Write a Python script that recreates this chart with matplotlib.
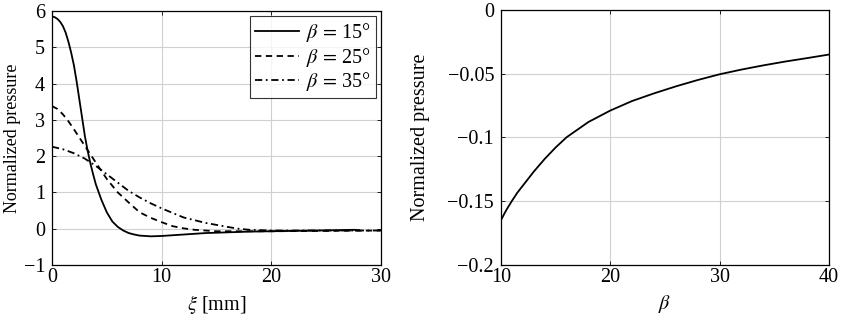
import matplotlib
matplotlib.use("Agg")
import matplotlib.pyplot as plt

plt.rcParams['font.family'] = ['Liberation Serif', 'DejaVu Serif']
plt.rcParams['mathtext.fontset'] = 'stix'
plt.rcParams['font.size'] = 14.5

# Left panel data
xi_15 = [0, 0.25, 0.5, 0.75, 1, 1.25, 1.5, 1.75, 2, 2.25, 2.5, 2.75, 3, 3.25, 3.5, 3.75, 4, 4.5, 5, 5.5, 6, 6.5, 7, 7.5, 8, 9, 10,
         12, 14, 16, 18, 20, 22, 24, 26, 27.5, 28]
p_15 = [5.85, 5.83, 5.78, 5.7, 5.58, 5.4, 5.15, 4.85, 4.5, 4.05, 3.55, 3.05, 2.55, 2.15, 1.8, 1.5, 1.22, 0.8, 0.45, 0.2, 0.05,
        -0.05, -0.12, -0.16, -0.19, -0.21, -0.2,
        -0.16, -0.12, -0.1, -0.08, -0.07, -0.06, -0.05, -0.04, -0.03, -0.04]
xi_25 = [0, 0.5, 1, 1.5, 2, 2.5, 3, 4, 5, 6, 7, 8, 9, 10, 11, 12, 13, 15, 20, 25, 30]
p_25 = [3.38, 3.3, 3.15, 2.96, 2.74, 2.51, 2.28, 1.82, 1.37, 1.0, 0.72, 0.45, 0.3, 0.18, 0.07, 0.01, -0.03, -0.07, -0.07, -0.06, -0.05]
xi_35 = [0, 1, 2, 3, 4, 5, 6, 7, 8, 9, 10, 12, 14, 16, 17, 18, 20, 25, 30]
p_35 = [2.26, 2.19, 2.08, 1.93, 1.73, 1.5, 1.27, 1.04, 0.86, 0.7, 0.56, 0.31, 0.16, 0.05, 0.0, -0.03, -0.05, -0.05, -0.05]
series_labels = [r'$\beta\,=\,$15°', r'$\beta\,=\,$25°', r'$\beta\,=\,$35°']

# Right panel data
beta = [10, 10.5, 11, 11.5, 12, 12.5, 13, 13.5, 14, 15, 16, 17, 18, 19, 20, 22, 24, 26, 28, 30, 32, 34, 36, 38, 40]
p_beta = [-0.165, -0.157, -0.150, -0.1435, -0.138, -0.1325, -0.127, -0.122, -0.117, -0.108, -0.100, -0.094, -0.088,
          -0.0835, -0.079, -0.0715, -0.0655, -0.060, -0.055, -0.0505, -0.0468, -0.0435, -0.0405, -0.0378, -0.035]

fig = plt.figure(figsize=(8.43, 3.18), dpi=100)
ax1 = fig.add_axes([52/843, 1-265/318, 329/843, 254/318])
ax2 = fig.add_axes([501/843, 1-264.5/318, 328/843, 254.5/318])

lw = 1.3
ax1.plot(xi_15, p_15, color='black', lw=lw, ls='-', label=series_labels[0])
ax1.plot(xi_25, p_25, color='black', lw=lw, ls=(0, (3.5, 2.5)), label=series_labels[1])
ax1.plot(xi_35, p_35, color='black', lw=lw, ls=(0, (4, 2, 1, 2)), label=series_labels[2])
ax1.set_xlim(0, 30)
ax1.set_ylim(-1, 6)
ax1.set_xticks([0, 10, 20, 30])
ax1.set_yticks(range(-1, 7))
ax1.set_xlabel(r'$\xi$ [mm]', labelpad=4)
ax1.set_ylabel('Normalized pressure', fontsize=13)
ax1.yaxis.set_label_coords(-0.095, 0.5)
leg = ax1.legend(loc='upper right', frameon=True, fancybox=False, edgecolor='black',
                 borderaxespad=0.25, handlelength=2.2, handletextpad=0.35, labelspacing=0.08, borderpad=0.25)
leg.get_frame().set_linewidth(0.8)

ax2.plot(beta, p_beta, color='black', lw=lw)
ax2.set_xlim(10, 40)
ax2.set_ylim(-0.2, 0)
ax2.set_xticks([10, 20, 30, 40])
ax2.set_yticks([-0.2, -0.15, -0.1, -0.05, 0])
ax2.set_yticklabels(['\u22120.2', '\u22120.15', '\u22120.1', '\u22120.05', '0'])
ax2.set_xlabel(r'$\beta$', labelpad=4)
ax2.set_ylabel('Normalized pressure')
ax2.yaxis.set_label_coords(-0.215, 0.5)

for ax in (ax1, ax2):
    ax.grid(True, color='#d0d0d0', lw=0.8)
    ax.set_axisbelow(True)
    ax.tick_params(direction='in', length=3, width=0.6, top=True, right=True)
    ax.tick_params(axis='x', pad=2.5)
    ax.tick_params(axis='y', pad=5)
    for s in ax.spines.values():
        s.set_linewidth(0.9)

fig.savefig('out.png', dpi=100)
